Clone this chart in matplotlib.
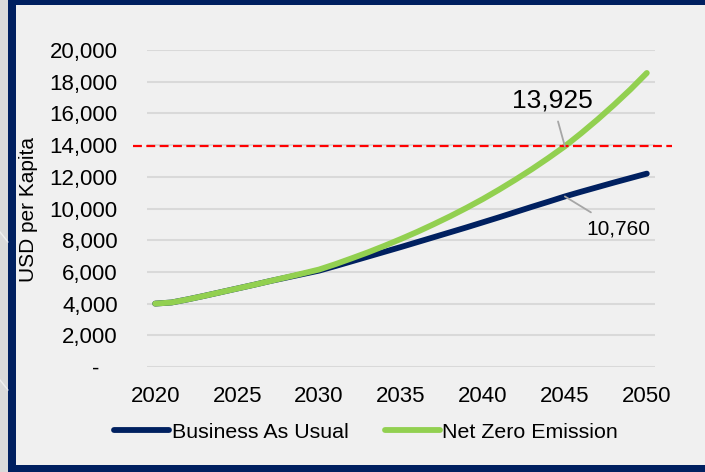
import matplotlib
matplotlib.use("Agg")
import matplotlib.pyplot as plt
from matplotlib.patches import Rectangle
from matplotlib.lines import Line2D
from matplotlib.ticker import FuncFormatter

plt.rcParams['font.family'] = ['Liberation Sans', 'DejaVu Sans']

years = list(range(2020, 2051))
business_as_usual = [4000, 4070, 4270, 4490, 4720, 4950, 5180, 5420, 5640, 5860,
                     6080, 6370, 6670, 6970, 7270, 7570, 7880, 8190, 8500, 8810,
                     9130, 9450, 9780, 10110, 10430, 10760, 11060, 11350, 11640, 11920,
                     12200]
net_zero = [4000, 4070, 4270, 4490, 4720, 4950, 5180, 5420, 5660, 5900,
            6150, 6490, 6860, 7240, 7650, 8080, 8530, 9010, 9510, 10040,
            10600, 11200, 11830, 12490, 13190, 13925, 14750, 15620, 16540, 17510,
            18550]
series_names = ["Business As Usual", "Net Zero Emission"]
x_ticks = [2020, 2025, 2030, 2035, 2040, 2045, 2050]
y_ticks = [0, 2000, 4000, 6000, 8000, 10000, 12000, 14000, 16000, 18000, 20000]
label_year = 2045
nze_label = 13925
bau_label = 10760

W, H = 705, 472
fig = plt.figure(figsize=(W / 100, H / 100), dpi=100)
fig.patch.set_facecolor('#f0f0f0')

navy = '#002060'
green = '#92d050'

# frame around the panel
def px_rect(x0, y0, x1, y1, color, z=0):
    fig.patches.append(Rectangle((x0 / W, 1 - y1 / H), (x1 - x0) / W, (y1 - y0) / H,
                                 transform=fig.transFigure, facecolor=color,
                                 edgecolor='none', zorder=z))

px_rect(0, 0, 8, H, '#dadada')
px_rect(8, 0, 16, H, navy, 1)
px_rect(8, 0, W, 5, navy, 1)
px_rect(8, 465, W, H, navy, 1)
for y0 in (232, 380):
    fig.lines.append(Line2D([0, 8 / W], [1 - y0 / H, 1 - (y0 + 10) / H],
                            transform=fig.transFigure, color='white', alpha=0.6, lw=1))

ax = fig.add_axes([147 / W, 1 - 367 / H, 508 / W, 317 / H])
ax.set_facecolor('#f0f0f0')
for s in ax.spines.values():
    s.set_visible(False)

ax.plot(years, business_as_usual, color=navy, lw=4.2, solid_capstyle='round', zorder=3,
        label=series_names[0])
ax.plot(years, net_zero, color=green, lw=4.2, solid_capstyle='round', zorder=4,
        label=series_names[1])

ax.set_xlim(2019.5, 2050.5)
ax.set_ylim(0, 20000)
ax.set_xticks(x_ticks)
ax.set_yticks(y_ticks)
ax.yaxis.set_major_formatter(FuncFormatter(lambda v, p: '-   ' if v == 0 else f'{int(v):,}'))
ax.tick_params(axis='both', length=0, labelsize=16, colors='black')
ax.tick_params(axis='y', pad=21)
ax.tick_params(axis='x', pad=14)
ax.grid(axis='y', color='#d9d9d9', lw=1.5)
ax.set_axisbelow(True)

# reference level at the net-zero value
ax.plot([-0.028, 1.033], [nze_label, nze_label], transform=ax.get_yaxis_transform(),
        color='#ff0000', lw=1.6, ls=(0, (4, 2)), clip_on=False, zorder=5)

bau_at = business_as_usual[years.index(label_year)]
nze_at = net_zero[years.index(label_year)]
ax.annotate(f'{nze_label:,}', xy=(label_year, nze_at), xytext=(2044.22, 16845),
            ha='center', va='center', fontsize=19,
            arrowprops=dict(arrowstyle='-', color='#a6a6a6', lw=1.3, shrinkA=5, shrinkB=0),
            zorder=6)
ax.annotate(f'{bau_label:,}', xy=(label_year, bau_at), xytext=(2048.25, 8707),
            ha='center', va='center', fontsize=15,
            arrowprops=dict(arrowstyle='-', color='#a6a6a6', lw=1.3, shrinkA=6, shrinkB=0),
            zorder=6)

fig.text(28 / W, 1 - 209 / H, 'USD per Kapita', rotation=90, ha='center', va='center',
         fontsize=15)

fig.legend(loc='center', bbox_to_anchor=(366 / W, 1 - 432 / H), ncol=2, frameon=False,
           fontsize=15.4, handlelength=2.6, handletextpad=0.1, columnspacing=1.7)

fig.savefig('out.png', dpi=100, facecolor=fig.get_facecolor())
